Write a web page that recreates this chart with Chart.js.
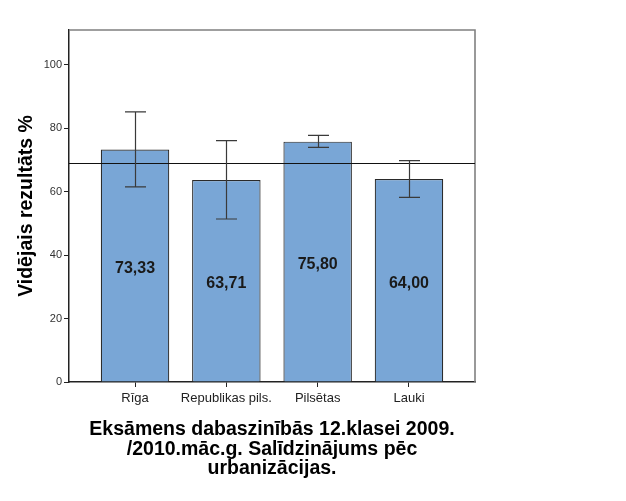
<!DOCTYPE html>
<html>
<head>
<meta charset="utf-8">
<script src="https://cdn.jsdelivr.net/npm/chart.js@4"></script>
<style>
  body { margin: 0; background: #fff; }
  #wrap { width: 626px; height: 501px; position: relative; }
</style>
</head>
<body>
<div id="wrap"><canvas id="chart"></canvas></div>
<script>
// --- DATA ---
const categories = ['Rīga', 'Republikas pils.', 'Pilsētas', 'Lauki'];
const means = [73.33, 63.71, 75.80, 64.00];
const errLow = [61.5, 51.4, 74.0, 58.2];
const errHigh = [85.2, 76.1, 77.8, 69.8];
const refLine = 69.2; // overall mean line
const yTicks = [0, 20, 40, 60, 80, 100];

const yTitle = 'Vidējais rezultāts %';
const xTitle = ['Eksāmens dabaszinībās 12.klasei 2009.', '/2010.māc.g. Salīdzinājums pēc', 'urbanizācijas.'];

// --- PLUGINS ---
// frame (top + right), reference line, error bars, value labels
const extras = {
    id: 'extras',
    afterDatasetsDraw(chart) {
        const ctx = chart.ctx;
        const area = chart.chartArea;
        const y = chart.scales.y;
        const bars = chart.getDatasetMeta(0).data;

        ctx.save();
        // frame
        ctx.strokeStyle = '#808080';
        ctx.lineWidth = 1.6;
        ctx.beginPath();
        ctx.moveTo(area.left, area.top);
        ctx.lineTo(area.right, area.top);
        ctx.lineTo(area.right, area.bottom);
        ctx.stroke();

        // reference line
        const ry = Math.round(y.getPixelForValue(refLine)) + 0.5;
        ctx.strokeStyle = '#111';
        ctx.lineWidth = 1;
        ctx.beginPath();
        ctx.moveTo(area.left, ry);
        ctx.lineTo(area.right, ry);
        ctx.stroke();

        // error bars
        ctx.strokeStyle = '#3a3a3a';
        ctx.lineWidth = 1.2;
        bars.forEach((bar, i) => {
            const x = Math.round(bar.x) + 0.5;
            const yl = y.getPixelForValue(errLow[i]);
            const yh = y.getPixelForValue(errHigh[i]);
            ctx.beginPath();
            ctx.moveTo(x, yl); ctx.lineTo(x, yh);
            ctx.moveTo(x - 10.5, yl); ctx.lineTo(x + 10.5, yl);
            ctx.moveTo(x - 10.5, yh); ctx.lineTo(x + 10.5, yh);
            ctx.stroke();
        });

        // value labels in the middle of each bar
        ctx.fillStyle = '#1a1a1a';
        ctx.font = 'bold 16px "Liberation Sans", Arial, sans-serif';
        ctx.textAlign = 'center';
        ctx.textBaseline = 'middle';
        bars.forEach((bar, i) => {
            const my = y.getPixelForValue(means[i] / 2) + 3;
            ctx.fillText(means[i].toFixed(2).replace('.', ','), bar.x, my);
        });
        ctx.restore();
    }
};

// --- CHART ---
new Chart(document.getElementById('chart'), {
    type: 'bar',
    data: {
        datasets: [{
            data: means.map((v, i) => ({ x: i, y: v })),
            backgroundColor: '#79a6d6',
            borderColor: '#2a2a2a',
            borderWidth: 1.2,
            categoryPercentage: 1,
            barPercentage: 0.75
        }]
    },
    options: {
        responsive: true,
        maintainAspectRatio: false,
        animation: false,
        layout: { padding: { left: 0, top: 30, right: 151, bottom: 0 } },
        plugins: { legend: { display: false }, tooltip: { enabled: false } },
        scales: {
            x: {
                type: 'linear',
                offset: false,
                min: -0.723,
                max: 3.723,
                afterBuildTicks: s => { s.ticks = categories.map((c, i) => ({ value: i })); },
                afterFit: s => { s.height = 119; },
                ticks: {
                    callback: v => categories[v],
                    color: '#222',
                    font: { family: '"Liberation Sans", Arial, sans-serif', size: 13 },
                    padding: 4,
                    maxRotation: 0,
                    autoSkip: false
                },
                grid: { offset: false, drawOnChartArea: false, tickLength: 5, color: '#222', lineWidth: 1 },
                border: { color: '#222', width: 1.5 },
                title: {
                    display: true,
                    text: xTitle,
                    color: '#000',
                    font: { family: '"Liberation Sans", Arial, sans-serif', size: 19.5, weight: 'bold', lineHeight: 1.02 },
                    padding: { top: 0, bottom: 22 }
                }
            },
            y: {
                min: 0,
                max: 111,
                afterBuildTicks: s => { s.ticks = yTicks.map(v => ({ value: v })); },
                afterFit: s => { s.width = 69; },
                ticks: {
                    color: '#333',
                    font: { family: '"Liberation Sans", Arial, sans-serif', size: 11 },
                    padding: 2
                },
                grid: { drawOnChartArea: false, tickLength: 5, color: '#222', lineWidth: 1 },
                border: { color: '#222', width: 1.5 },
                title: {
                    display: true,
                    text: yTitle,
                    color: '#000',
                    font: { family: '"Liberation Sans", Arial, sans-serif', size: 19.5, weight: 'bold', lineHeight: 1.02 },
                    padding: { top: 17, bottom: 0 }
                }
            }
        }
    },
    plugins: [extras]
});
</script>
</body>
</html>
